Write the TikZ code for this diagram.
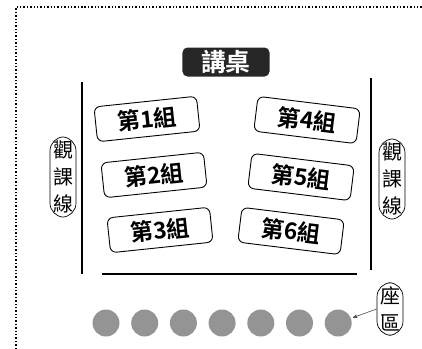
\documentclass[tikz,border=0pt]{standalone}
\usepackage{fontspec}
\newfontfamily\cjk{Noto Sans CJK TC}[BoldFont={Noto Sans CJK TC Bold}]
\usetikzlibrary{arrows}

\begin{document}
\begin{tikzpicture}[x=1bp,y=-1bp,
    grp/.style={draw,line width=0.9bp,rounded corners=6bp,minimum width=103bp,minimum height=35bp,inner sep=0pt,font=\cjk\bfseries\fontsize{23}{23}\selectfont},
    tag/.style={draw,line width=0.7bp,rounded corners=14bp,text width=21bp,align=center,inner xsep=2.5bp,inner ysep=4bp,font=\cjk\fontsize{20}{27}\selectfont},
    seat/.style={circle,fill=black!42,minimum size=27bp,inner sep=0pt}]
  \useasboundingbox (0,0) rectangle (422,349);
  % frame
  \draw[line width=1.4bp,dotted] (16,349) -- (16,7) -- (422,7);
  % desk
  \node[fill=black!85,rounded corners=5bp,minimum width=87bp,minimum height=29bp,inner sep=0pt,text=white,font=\cjk\bfseries\fontsize{25}{25}\selectfont] (desk) at (226,62) {講桌};
  % room lines
  \draw[line width=1.5bp] (82,82) -- (82,274);
  \draw[line width=1.5bp] (371,78) -- (371,270);
  \draw[line width=2bp] (102,274) -- (357,274);
  % groups
  \node[grp,rotate=6] (g1) at (147,119) {第1組};
  \node[grp,rotate=6] (g2) at (154,175) {第2組};
  \node[grp,rotate=6] (g3) at (160,230) {第3組};
  \node[grp,rotate=-7] (g4) at (307,120) {第4組};
  \node[grp,rotate=-7] (g5) at (301,177) {第5組};
  \node[grp,rotate=-7] (g6) at (291,231) {第6組};
  % side labels
  \node[tag] (lineL) at (63,177) {觀\\課\\線};
  \node[tag] (lineR) at (392,179) {觀\\課\\線};
  \node[tag] (zone) at (390,309) {座\\區};
  % seats
  \foreach \i in {1,...,7}
    \node[seat] (s\i) at ({106+38.7*(\i-1)},323) {};
  \draw[-stealth',line width=0.6bp,black!70,shorten >=2bp] (zone.west) -- (s7);
\end{tikzpicture}
\end{document}
